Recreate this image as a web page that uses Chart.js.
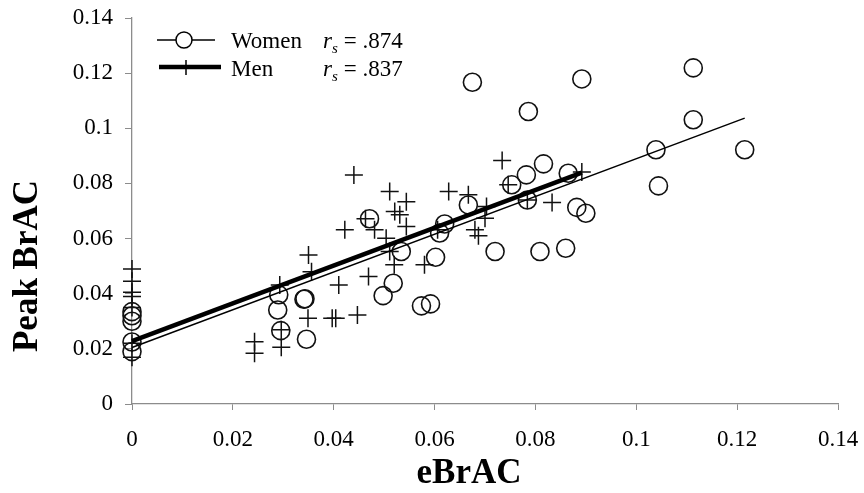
<!DOCTYPE html>
<html>
<head>
<meta charset="utf-8">
<script src="https://cdn.jsdelivr.net/npm/chart.js@4/dist/chart.umd.min.js"></script>
<style>
  html, body { margin: 0; padding: 0; background: #fff; }
  #wrap { width: 864px; height: 493px; }
</style>
</head>
<body>
<div id="wrap"><canvas id="brac-chart" width="864" height="493"></canvas></div>
<script>
// eBrAC vs peak BrAC, women (circles) and men (crosses)
var tickValues = [0, 0.02, 0.04, 0.06, 0.08, 0.1, 0.12, 0.14];

var womenX = [0, 0, 0, 0, 0, 0.0289, 0.0291, 0.0295, 0.0341, 0.0343, 0.0346, 0.0471, 0.0498, 0.0518,
  0.0534, 0.0574, 0.0592, 0.0602, 0.061, 0.062, 0.0667, 0.0675, 0.072, 0.0753, 0.0784, 0.0782,
  0.0786, 0.0809, 0.0816, 0.086, 0.0865, 0.0882, 0.09, 0.0892, 0.1039, 0.1044, 0.1113, 0.1113, 0.1215];
var womenY = [0.0335, 0.032, 0.030, 0.0225, 0.019, 0.0341, 0.0396, 0.0266, 0.038, 0.0382, 0.0235, 0.0672, 0.0393, 0.0438,
  0.0553, 0.0356, 0.0363, 0.0532, 0.062, 0.0653, 0.0722, 0.1167, 0.0553, 0.0795, 0.074, 0.0831,
  0.1061, 0.0553, 0.0871, 0.0565, 0.0837, 0.0713, 0.0692, 0.1179, 0.0922, 0.0791, 0.1219, 0.1031, 0.0922];

var menX = [0, 0, 0, 0, 0, 0, 0, 0.0243, 0.0243, 0.0293, 0.0296, 0.0296, 0.0349, 0.035, 0.0356,
  0.0397, 0.0404, 0.041, 0.0422, 0.044, 0.0447, 0.0463, 0.0469, 0.0481, 0.0504, 0.0511, 0.0511,
  0.052, 0.0521, 0.0531, 0.0544, 0.0544, 0.058, 0.0606, 0.0628, 0.0667, 0.068, 0.0687, 0.07,
  0.0703, 0.0734, 0.0746, 0.0784, 0.0833, 0.0892];
var menY = [0.049, 0.0445, 0.0405, 0.039, 0.035, 0.022, 0.017, 0.0226, 0.0184, 0.0432, 0.0269, 0.0206, 0.0311, 0.054, 0.048,
  0.0311, 0.0311, 0.0432, 0.0632, 0.0831, 0.0323, 0.0672, 0.0462, 0.0632, 0.0601, 0.0771, 0.0553,
  0.0505, 0.0698, 0.0686, 0.0734, 0.0644, 0.0505, 0.0632, 0.0771, 0.0759, 0.0632, 0.061, 0.0674,
  0.0716, 0.0883, 0.0795, 0.074, 0.0731, 0.0841];

// fitted lines, start and end points
var womenFitX = [0, 0.1215];
var womenFitY = [0.0205, 0.1037];
var menFitX = [0, 0.0892];
var menFitY = [0.0228, 0.0839];

var legendRows = [
  { label: 'Women', rs: ' = .874' },
  { label: 'Men', rs: ' = .837' }
];

var serif = "'Liberation Serif', 'Times New Roman', serif";
var axisGrey = '#8c8c8c';

function toPoints(xs, ys) {
  return xs.map(function(x, i) {
    return { x: x, y: ys[i] };
  });
}

function formatTick(value) {
  return String(Number(value.toFixed(2)));
}

function fixedTicks(scale) {
  scale.ticks = tickValues.map(function(v) { return { value: v }; });
}

// legend box and axis titles, drawn straight on the canvas
var overlayPlugin = {
  id: 'overlay',
  afterDraw: function(chart) {
    var ctx = chart.ctx;
    ctx.save();
    ctx.fillStyle = '#000';
    ctx.strokeStyle = '#000';

    // women sample: thin line with a circle
    ctx.lineWidth = 1.5;
    ctx.beginPath();
    ctx.moveTo(157, 40);
    ctx.lineTo(215, 40);
    ctx.stroke();
    ctx.beginPath();
    ctx.arc(184, 40, 8, 0, Math.PI * 2);
    ctx.fillStyle = '#fff';
    ctx.fill();
    ctx.stroke();
    ctx.fillStyle = '#000';

    // men sample: thick line with a small cross
    ctx.lineWidth = 4.5;
    ctx.beginPath();
    ctx.moveTo(159, 67);
    ctx.lineTo(221, 67);
    ctx.stroke();
    ctx.lineWidth = 1.5;
    ctx.beginPath();
    ctx.moveTo(186, 60);
    ctx.lineTo(186, 75);
    ctx.stroke();

    ctx.textBaseline = 'alphabetic';
    ctx.textAlign = 'left';
    legendRows.forEach(function(row, i) {
      var base = 48 + i * 28;
      ctx.font = '23px ' + serif;
      ctx.fillText(row.label, 231, base);
      ctx.font = 'italic 23px ' + serif;
      ctx.fillText('r', 323, base);
      ctx.font = 'italic 15px ' + serif;
      ctx.fillText('s', 332, base + 5);
      ctx.font = '23px ' + serif;
      ctx.fillText(row.rs, 338, base);
    });

    // axis titles
    ctx.font = 'bold 35px ' + serif;
    ctx.textAlign = 'center';
    ctx.textBaseline = 'middle';
    ctx.fillText('eBrAC', 469, 474);
    ctx.translate(28, 266);
    ctx.rotate(-Math.PI / 2);
    ctx.fillText('Peak BrAC', 0, 0);
    ctx.restore();
  }
};

var bracCtx = document.getElementById('brac-chart').getContext('2d');
var bracChart = new Chart(bracCtx, {
  type: 'scatter',
  data: {
    datasets: [{
      type: 'line',
      label: 'Men fit',
      data: toPoints(menFitX, menFitY),
      borderColor: '#000',
      borderWidth: 4.5,
      pointRadius: 0,
      fill: false,
      clip: false
    }, {
      type: 'line',
      label: 'Women fit',
      data: toPoints(womenFitX, womenFitY),
      borderColor: '#000',
      borderWidth: 1.5,
      pointRadius: 0,
      fill: false,
      clip: false
    }, {
      label: 'Men',
      data: toPoints(menX, menY),
      pointStyle: 'cross',
      pointRadius: 9,
      borderColor: '#111',
      borderWidth: 1.5,
      backgroundColor: 'rgba(0,0,0,0)',
      clip: false
    }, {
      label: 'Women',
      data: toPoints(womenX, womenY),
      pointStyle: 'circle',
      pointRadius: 9,
      borderColor: '#111',
      borderWidth: 1.6,
      backgroundColor: 'rgba(0,0,0,0)',
      clip: false
    }]
  },
  options: {
    responsive: false,
    animation: false,
    layout: {
      padding: { top: 18, right: 26, left: 0, bottom: 0 }
    },
    scales: {
      x: {
        type: 'linear',
        min: 0,
        max: 0.14,
        afterBuildTicks: fixedTicks,
        afterFit: function(scale) {
          // plot box is set by layout padding, not by label overhang
          scale.height = 89;
          scale.paddingLeft = 0;
          scale.paddingRight = 0;
        },
        grid: {
          drawOnChartArea: false,
          drawTicks: true,
          tickLength: 6,
          color: axisGrey
        },
        border: { color: axisGrey, width: 1.3 },
        ticks: {
          color: '#000',
          padding: 16,
          maxRotation: 0,
          font: { family: serif, size: 23 },
          callback: formatTick
        }
      },
      y: {
        type: 'linear',
        min: 0,
        max: 0.14,
        afterBuildTicks: fixedTicks,
        afterFit: function(scale) {
          scale.width = 132;
          scale.paddingTop = 0;
          scale.paddingBottom = 0;
        },
        grid: {
          drawOnChartArea: false,
          drawTicks: true,
          tickLength: 7,
          color: axisGrey
        },
        border: { color: axisGrey, width: 1.3 },
        ticks: {
          color: '#000',
          padding: 12,
          font: { family: serif, size: 23 },
          callback: formatTick
        }
      }
    },
    plugins: {
      legend: { display: false },
      tooltip: { enabled: false }
    }
  },
  plugins: [overlayPlugin]
});
</script>
</body>
</html>
